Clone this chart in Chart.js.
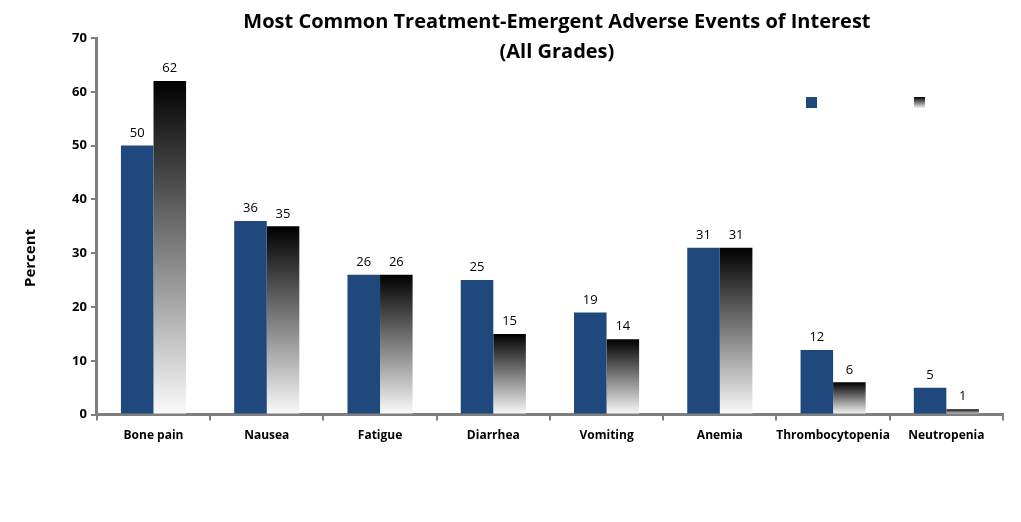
<!DOCTYPE html>
<html><head><meta charset="utf-8">
<script src="https://cdn.jsdelivr.net/npm/chart.js@4/dist/chart.umd.min.js"></script>
<style>html,body{margin:0;padding:0;background:#fff;}#wrap{width:1021px;height:522px;}</style>
</head><body><div id="wrap"><canvas id="c"></canvas></div>
<script>
const categories = ['Bone pain','Nausea','Fatigue','Diarrhea','Vomiting','Anemia','Thrombocytopenia','Neutropenia'];
const seriesA = [50,36,26,25,19,31,12,5];
const seriesB = [62,35,26,15,14,31,6,1];
const titleLines = ['Most Common Treatment-Emergent Adverse Events of Interest','(All Grades)'];
const yTitle = 'Percent';
const yTicks = [0,10,20,30,40,50,60,70];

const BLUE = '#1f497d';
const FONT = "'Open Sans', 'DejaVu Sans', sans-serif";

function gradFill(ctx){
  const chart = ctx.chart;
  const y = chart.scales && chart.scales.y;
  if (!y || ctx.raw === undefined || !chart.chartArea) return '#666';
  const top = y.getPixelForValue(ctx.raw);
  const bot = y.getPixelForValue(0);
  const g = chart.ctx.createLinearGradient(0, top, 0, bot);
  g.addColorStop(0, '#000000');
  g.addColorStop(1, '#fbfbfb');
  return g;
}

const extras = {
  id:'extras',
  afterDatasetsDraw(chart){
    const c = chart.ctx;
    c.save();
    c.fillStyle = '#000';
    c.font = "13px " + FONT;
    c.textAlign = 'center';
    c.textBaseline = 'bottom';
    chart.data.datasets.forEach((ds, di) => {
      chart.getDatasetMeta(di).data.forEach((bar, i) => {
        c.fillText(String(ds.data[i]), bar.x, bar.y - 6);
      });
    });
    const ca = chart.chartArea;
    c.font = "bold 20px " + FONT;
    c.textBaseline = 'middle';
    const cx = (ca.left + ca.right) / 2 + 7;
    c.fillText(titleLines[0], cx, 22);
    c.fillText(titleLines[1], cx, 52);
    // y axis title
    c.save();
    c.translate(31, 258);
    c.rotate(-Math.PI/2);
    c.font = "bold 15px " + FONT;
    c.fillText(yTitle, 0, 0);
    c.restore();
    // legend squares
    c.fillStyle = BLUE;
    c.fillRect(806, 97, 11, 11);
    const g = c.createLinearGradient(0, 97, 0, 108);
    g.addColorStop(0, '#000'); g.addColorStop(1, '#f4f4f4');
    c.fillStyle = g;
    c.fillRect(914, 97, 11, 11);
    c.restore();
  }
};

new Chart(document.getElementById('c'), {
  type:'bar',
  data:{
    labels: categories,
    datasets:[
      {label:'Series A', data: seriesA, backgroundColor: BLUE, borderWidth:0},
      {label:'Series B', data: seriesB, backgroundColor: gradFill, borderWidth:0}
    ]
  },
  options:{
    responsive:true, maintainAspectRatio:false, animation:false,
    devicePixelRatio:1,
    layout:{padding:{top:38, right:18, bottom:71, left:68}},
    datasets:{bar:{categoryPercentage:0.575, barPercentage:1}},
    plugins:{legend:{display:false}, title:{display:false}, tooltip:{enabled:false}},
    scales:{
      x:{
        offset:true,
        grid:{display:true, drawOnChartArea:false, offset:true, tickLength:6, color:'#7f7f7f', lineWidth:2},
        border:{display:true, color:'#7f7f7f', width:3},
        ticks:{color:'#000', font:{family:FONT, size:12, weight:'bold'}, padding:8, maxRotation:0, autoSkip:false}
      },
      y:{
        min:0, max:70,
        afterBuildTicks(ax){ ax.ticks = yTicks.map(v => ({value:v})); },
        grid:{display:true, drawOnChartArea:false, tickLength:6, color:'#7f7f7f', lineWidth:2},
        border:{display:true, color:'#7f7f7f', width:3},
        ticks:{color:'#000', font:{family:FONT, size:13, weight:'bold'}, padding:4},
        title:{display:false}
      }
    }
  },
  plugins:[extras]
});
</script>
</body></html>
